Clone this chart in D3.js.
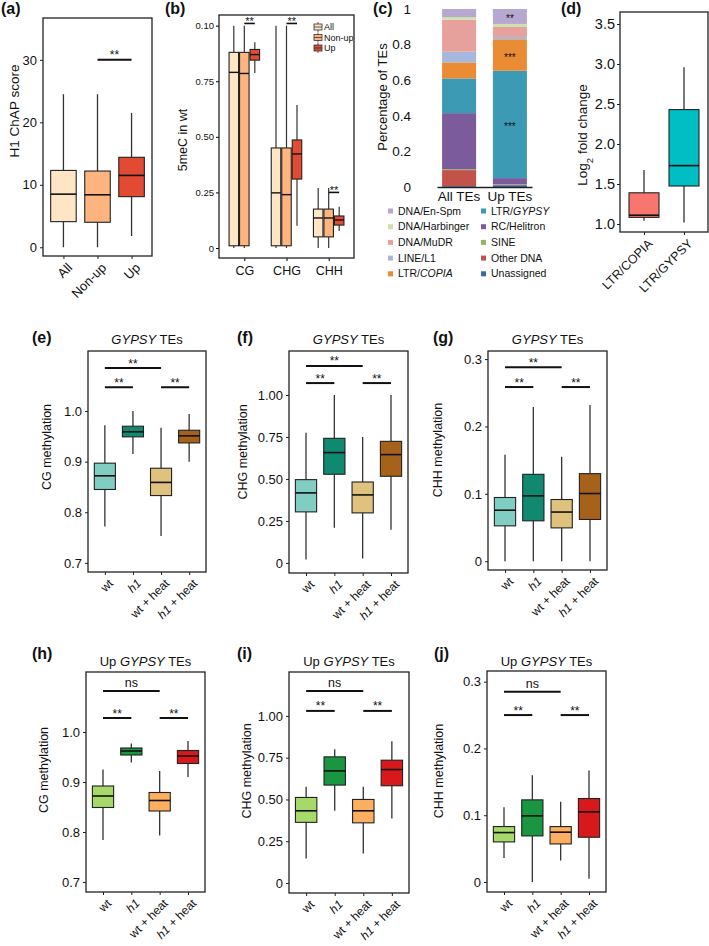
<!DOCTYPE html>
<html>
<head>
<meta charset="utf-8">
<script src="https://cdn.jsdelivr.net/npm/d3@7"></script>
<style>
  body { margin: 0; background: #fff; }
  svg text { font-family: "Liberation Sans", Arial, Helvetica, sans-serif; fill: #111; white-space: pre; }
</style>
</head>
<body>
<div id="fig"></div>
<script>
// ---------- data ----------
// box stats are [lower whisker, Q1, median, Q3, upper whisker]

// (a) H1 ChAP score
const aGroups = ["All", "Non-up", "Up"];
const aStats = [[0, 4.1, 8.5, 12.3, 24.5], [0, 4.0, 8.4, 12.2, 24.5], [1.8, 8.1, 11.5, 14.4, 21.5]];
const aColors = ["#fee5c6", "#fdb47f", "#e34a33"];
const aSig = [{ from: 1, to: 2, y: 30, label: "**" }];

// (b) 5meC in wt, grouped by context
const bContexts = ["CG", "CHG", "CHH"];
const bSeries = ["All", "Non-up", "Up"];
const bAll = [[0, 0.01, 0.79, 0.88, 1.0], [0, 0.01, 0.248, 0.45, 1.0], [0, 0.05, 0.135, 0.175, 0.27]];
const bNonUp = [[0, 0.01, 0.785, 0.88, 1.0], [0, 0.01, 0.24, 0.45, 1.0], [0, 0.05, 0.135, 0.175, 0.27]];
const bUp = [[0.787, 0.845, 0.87, 0.893, 0.925], [0.10, 0.31, 0.423, 0.486, 0.643], [0.076, 0.103, 0.126, 0.144, 0.185]];
const bTickValues = [0, 0.25, 0.5, 0.75, 1.0];
const bTickLabels = ["0", "0.25", "0.50", "0.75", "0.10"];
const bSig = [{ ctx: "CG", y: 1.01 }, { ctx: "CHG", y: 1.01 }, { ctx: "CHH", y: 0.25 }];

// (c) percentage of TEs
const cBars = ["All TEs", "Up TEs"];
const cCategories = ["DNA/En-Spm", "DNA/Harbinger", "DNA/MuDR", "LINE/L1", "LTR/COPIA",
                     "LTR/GYPSY", "RC/Helitron", "SINE", "Other DNA", "Unassigned"];
const cColors = ["#b6a8d0", "#cde0ae", "#e6a19c", "#a6b9dc", "#e98c34",
                 "#3c9ab4", "#7c5b9c", "#98b360", "#c2534b", "#3a69a3"];
const cAllTEs = [0.045, 0.015, 0.18, 0.06, 0.09, 0.195, 0.315, 0.005, 0.09, 0.005];
const cUpTEs = [0.084, 0.017, 0.056, 0.013, 0.177, 0.603, 0.035, 0.002, 0.003, 0.01];
const cSig = [{ bar: "Up TEs", cat: "DNA/En-Spm", label: "**" },
              { bar: "Up TEs", cat: "LTR/COPIA", label: "***" },
              { bar: "Up TEs", cat: "LTR/GYPSY", label: "***" }];

// (d) log2 fold change
const dGroups = ["LTR/COPIA", "LTR/GYPSY"];
const dStats = [[1.04, 1.083, 1.11, 1.39, 1.675], [1.02, 1.475, 1.73, 2.43, 2.96]];
const dColors = ["#f8766d", "#00bfc4"];

// (e)-(j) methylation
const methGroups = ["wt", "h1", "wt + heat", "h1 + heat"];
const gypsyColors = ["#80cdc1", "#0f8a70", "#dfc27d", "#a6611a"];
const upColors = ["#a6d96a", "#1a9641", "#fdae61", "#d7191c"];

const eStats = [[0.772, 0.845, 0.872, 0.897, 0.972], [0.915, 0.949, 0.959, 0.97, 1.0],
                [0.753, 0.833, 0.859, 0.887, 0.967], [0.90, 0.937, 0.951, 0.962, 0.994]];
const fStats = [[0.02, 0.304, 0.417, 0.496, 0.775], [0.21, 0.528, 0.657, 0.742, 1.0],
                [0.026, 0.298, 0.405, 0.482, 0.75], [0.198, 0.516, 0.645, 0.724, 1.0]];
const gStats = [[0, 0.0525, 0.0757, 0.0946, 0.158], [0, 0.06, 0.097, 0.129, 0.229],
                [0, 0.0495, 0.073, 0.0916, 0.155], [0, 0.062, 0.1005, 0.13, 0.232]];
const hStats = [[0.784, 0.849, 0.872, 0.892, 0.925], [0.939, 0.954, 0.962, 0.968, 0.977],
                [0.793, 0.842, 0.863, 0.879, 0.922], [0.91, 0.937, 0.952, 0.963, 0.982]];
const iStats = [[0.147, 0.363, 0.432, 0.512, 0.576], [0.432, 0.586, 0.671, 0.755, 0.80],
                [0.177, 0.36, 0.432, 0.5, 0.576], [0.386, 0.582, 0.679, 0.735, 0.848]];
const jStats = [[0.036, 0.06, 0.074, 0.083, 0.112], [0, 0.069, 0.099, 0.123, 0.16],
                [0.032, 0.057, 0.0746, 0.083, 0.12], [0.005, 0.067, 0.105, 0.125, 0.167]];

const eSig = [{ from: 0, to: 2, y: 1.085, label: "**" }, { from: 0, to: 1, y: 1.047, label: "**" }, { from: 2, to: 3, y: 1.047, label: "**" }];
const fSig = [{ from: 0, to: 2, y: 1.173, label: "**" }, { from: 0, to: 1, y: 1.071, label: "**" }, { from: 2, to: 3, y: 1.071, label: "**" }];
const gSig = [{ from: 0, to: 2, y: 0.288, label: "**" }, { from: 0, to: 1, y: 0.2585, label: "**" }, { from: 2, to: 3, y: 0.2585, label: "**" }];
const hSig = [{ from: 0, to: 2, y: 1.082, label: "ns" }, { from: 0, to: 1, y: 1.028, label: "**" }, { from: 2, to: 3, y: 1.028, label: "**" }];
const iSig = [{ from: 0, to: 2, y: 1.15, label: "ns" }, { from: 0, to: 1, y: 1.03, label: "**" }, { from: 2, to: 3, y: 1.03, label: "**" }];
const jSig = [{ from: 0, to: 2, y: 0.285, label: "ns" }, { from: 0, to: 1, y: 0.25, label: "**" }, { from: 2, to: 3, y: 0.25, label: "**" }];

// ---------- drawing ----------
const svg = d3.select('#fig').append('svg').attr('width', 709).attr('height', 946);

function addParts(sel, parts) {
  parts.forEach(([s, it]) => sel.append('tspan').text(s).attr('font-style', it ? 'italic' : null));
  return sel;
}
function h1Parts(lbl) {
  return lbl.startsWith('h1') ? [['h1', true], [lbl.slice(2), false]] : [[lbl, false]];
}

function panelLabel(txt, x, y) {
  svg.append('text').attr('x', x).attr('y', y).text(txt)
    .style('font-size', '16px').style('font-weight', 'bold');
}

function yTitle(parts, x, yc, size) {
  const t = svg.append('text').attr('transform', `translate(${x},${yc}) rotate(-90)`)
    .attr('text-anchor', 'middle').attr('dy', '0.35em').style('font-size', size + 'px');
  addParts(t, parts);
  return t;
}

function boxPanel(o) {
  const g = svg.append('g');
  const x = d3.scalePoint().domain(o.groups).range([o.l, o.r]).padding(0.6);
  const y = d3.scaleLinear().domain(o.domain).range([o.b, o.t]);
  const bw = x.step() * 0.75;

  // y axis
  const ya = g.append('g').attr('transform', `translate(${o.l},0)`)
    .call(d3.axisLeft(y).tickValues(o.ticks).tickFormat((d, i) => o.tickLabels[i]).tickSize(3).tickPadding(o.tickPad || 3));
  ya.select('.domain').remove();
  ya.selectAll('text').style('font-size', o.tickFont + 'px').attr('fill', '#222');
  ya.selectAll('line').attr('stroke', '#222');

  // x axis ticks + rotated labels
  const xa = g.append('g').attr('transform', `translate(0,${o.b})`)
    .call(d3.axisBottom(x).tickSize(3).tickFormat(''));
  xa.select('.domain').remove();
  xa.selectAll('line').attr('stroke', '#222');
  o.groups.forEach(lbl => {
    const t = g.append('text')
      .attr('transform', `translate(${x(lbl) + 3},${o.b + 6}) rotate(-45)`)
      .attr('text-anchor', 'end').attr('dy', '0.71em')
      .style('font-size', o.labelFont + 'px').attr('fill', '#222');
    addParts(t, o.italicH1 ? h1Parts(lbl) : [[lbl, false]]);
  });

  // boxes
  const boxes = g.selectAll('.box').data(o.stats).join('g')
    .attr('transform', (d, i) => `translate(${x(o.groups[i])},0)`);
  boxes.append('line').attr('y1', d => y(d[0])).attr('y2', d => y(d[1]))
    .attr('stroke', '#333').attr('stroke-width', 1.3);
  boxes.append('line').attr('y1', d => y(d[3])).attr('y2', d => y(d[4]))
    .attr('stroke', '#333').attr('stroke-width', 1.3);
  boxes.append('rect').attr('x', -bw / 2).attr('width', bw)
    .attr('y', d => y(d[3])).attr('height', d => y(d[1]) - y(d[3]))
    .attr('fill', (d, i) => o.colors[i]).attr('stroke', '#222').attr('stroke-width', 1.1);
  boxes.append('line').attr('x1', -bw / 2).attr('x2', bw / 2)
    .attr('y1', d => y(d[2])).attr('y2', d => y(d[2]))
    .attr('stroke', '#111').attr('stroke-width', 1.6);

  // significance bars
  (o.sig || []).forEach(s => {
    const x1 = x(o.groups[s.from]), x2 = x(o.groups[s.to]), yy = y(s.y);
    g.append('line').attr('x1', x1).attr('x2', x2).attr('y1', yy).attr('y2', yy)
      .attr('stroke', '#111').attr('stroke-width', 2);
    g.append('text').attr('x', (x1 + x2) / 2).attr('y', s.label === 'ns' ? yy - 4 : yy - 0.5)
      .attr('text-anchor', 'middle').text(s.label)
      .style('font-size', (s.label === 'ns' ? 12.5 : 12) + 'px');
  });

  // frame
  g.append('rect').attr('x', o.l).attr('y', o.t).attr('width', o.r - o.l).attr('height', o.b - o.t)
    .attr('fill', 'none').attr('stroke', '#222').attr('stroke-width', 1.3);

  if (o.title) {
    const t = g.append('text').attr('x', (o.l + o.r) / 2).attr('y', o.titleY)
      .attr('text-anchor', 'middle').style('font-size', '13px');
    addParts(t, o.title);
  }
  return { x, y };
}

// ----- (a) -----
panelLabel('(a)', 1, 14);
boxPanel({ l: 43, r: 152, t: 18, b: 256, domain: [-1.4, 36.7], ticks: [0, 10, 20, 30],
  tickLabels: ['0', '10', '20', '30'], tickFont: 13, groups: aGroups, stats: aStats,
  colors: aColors, labelFont: 13, sig: aSig });
yTitle([['H1 ChAP score', false]], 14, 111, 13.5);

// ----- (b) -----
panelLabel('(b)', 165, 14);
(function () {
  const l = 219, r = 354, t = 15, b = 258;
  const g = svg.append('g');
  const x = d3.scalePoint().domain(bContexts).range([l, r]).padding(0.6);
  const dodge = d3.scaleBand().domain(bSeries).range([-15.75, 15.75]);
  const y = d3.scaleLinear().domain([-0.045, 1.048]).range([b, t]);
  const bw = 9.5;
  const bColors = aColors;
  const series = [bAll, bNonUp, bUp];

  const ya = g.append('g').attr('transform', `translate(${l},0)`)
    .call(d3.axisLeft(y).tickValues(bTickValues).tickFormat((d, i) => bTickLabels[i]).tickSize(3).tickPadding(2));
  ya.select('.domain').remove();
  ya.selectAll('text').style('font-size', '9.5px').attr('fill', '#222');
  const xa = g.append('g').attr('transform', `translate(0,${b})`)
    .call(d3.axisBottom(x).tickSize(3).tickPadding(5));
  xa.select('.domain').remove();
  xa.selectAll('text').style('font-size', '12.5px').attr('fill', '#222');

  bContexts.forEach((ctx, ci) => {
    bSeries.forEach((s, si) => {
      const d = series[si][ci];
      const cx = x(ctx) + dodge(s) + dodge.bandwidth() / 2;
      g.append('line').attr('x1', cx).attr('x2', cx).attr('y1', y(d[0])).attr('y2', y(d[1])).attr('stroke', '#333').attr('stroke-width', 1.2);
      g.append('line').attr('x1', cx).attr('x2', cx).attr('y1', y(d[3])).attr('y2', y(d[4])).attr('stroke', '#333').attr('stroke-width', 1.2);
      g.append('rect').attr('x', cx - bw / 2).attr('width', bw).attr('y', y(d[3])).attr('height', y(d[1]) - y(d[3]))
        .attr('fill', bColors[si]).attr('stroke', '#222').attr('stroke-width', 1.1);
      g.append('line').attr('x1', cx - bw / 2).attr('x2', cx + bw / 2).attr('y1', y(d[2])).attr('y2', y(d[2]))
        .attr('stroke', '#111').attr('stroke-width', 1.4);
    });
  });

  bSig.forEach(s => {
    const x1 = x(s.ctx) + dodge('Non-up') + dodge.bandwidth() / 2;
    const x2 = x(s.ctx) + dodge('Up') + dodge.bandwidth() / 2;
    g.append('line').attr('x1', x1).attr('x2', x2).attr('y1', y(s.y)).attr('y2', y(s.y)).attr('stroke', '#111').attr('stroke-width', 1.6);
    g.append('text').attr('x', (x1 + x2) / 2).attr('y', y(s.y) + 2).attr('text-anchor', 'middle').text('**').style('font-size', '11px');
  });

  // legend
  bSeries.forEach((s, i) => {
    const ly = 27 + i * 10.5;
    g.append('line').attr('x1', 318).attr('x2', 318).attr('y1', ly - 5).attr('y2', ly + 5).attr('stroke', '#333').attr('stroke-width', 0.8);
    g.append('rect').attr('x', 314).attr('y', ly - 3).attr('width', 8).attr('height', 6)
      .attr('fill', bColors[i]).attr('stroke', '#333').attr('stroke-width', 0.8);
    g.append('line').attr('x1', 314).attr('x2', 322).attr('y1', ly).attr('y2', ly).attr('stroke', '#333').attr('stroke-width', 0.8);
    g.append('text').attr('x', 324).attr('y', ly).attr('dy', '0.35em').text(s).style('font-size', '9px');
  });

  g.append('rect').attr('x', l).attr('y', t).attr('width', r - l).attr('height', b - t)
    .attr('fill', 'none').attr('stroke', '#222').attr('stroke-width', 1.3);
})();
yTitle([['5meC in wt', false]], 183, 140, 12.5);

// ----- (c) -----
panelLabel('(c)', 373, 14);
(function () {
  const g = svg.append('g');
  const x = d3.scaleBand().domain(cBars).range([437, 532]).paddingInner(0.33).paddingOuter(0.1);
  const y = d3.scaleLinear().domain([0, 1]).range([187, 9]);
  const colorOf = d3.scaleOrdinal().domain(cCategories).range(cColors);
  const values = [cAllTEs, cUpTEs];
  const table = cBars.map((bar, bi) => {
    const row = { bar };
    cCategories.forEach((c, ci) => { row[c] = values[bi][ci]; });
    return row;
  });
  const stacked = d3.stack().keys(cCategories.slice().reverse())(table);

  g.selectAll('.layer').data(stacked).join('g').attr('fill', d => colorOf(d.key))
    .selectAll('rect').data(d => d).join('rect')
    .attr('x', d => x(d.data.bar)).attr('width', x.bandwidth())
    .attr('y', d => y(d[1])).attr('height', d => y(d[0]) - y(d[1]));

  cSig.forEach(s => {
    const layer = stacked.find(L => L.key === s.cat);
    const seg = layer[cBars.indexOf(s.bar)];
    g.append('text').attr('x', x(s.bar) + x.bandwidth() / 2).attr('y', y((seg[0] + seg[1]) / 2) + 6)
      .attr('text-anchor', 'middle').text(s.label).style('font-size', '10px');
  });

  const ya = g.append('g').attr('transform', 'translate(437,0)')
    .call(d3.axisLeft(y).tickValues([0, 0.2, 0.4, 0.6, 0.8, 1]).tickFormat(d3.format('~g')).tickSize(0).tickPadding(26));
  ya.select('.domain').remove();
  ya.selectAll('text').style('font-size', '13.5px').attr('fill', '#222');

  const xa = g.append('g').attr('transform', 'translate(0,187)')
    .call(d3.axisBottom(x).tickSize(0).tickSizeOuter(0).tickPadding(4));
  xa.select('.domain').attr('stroke', '#222').attr('stroke-width', 1.5);
  xa.selectAll('text').style('font-size', '13.5px').attr('fill', '#222');

  // legend, two columns
  cCategories.forEach((c, i) => {
    const col = Math.floor(i / 5), row = i % 5;
    const lx = col === 0 ? 388 : 481, ly = 211 + row * 15.7;
    g.append('rect').attr('x', lx).attr('y', ly - 2.5).attr('width', 5).attr('height', 5).attr('fill', cColors[i]);
    const t = g.append('text').attr('x', lx + 10).attr('y', ly).attr('dy', '0.35em').style('font-size', '10.5px').attr('fill', '#222');
    const parts = c.startsWith('LTR/') ? [['LTR/', false], [c.slice(4), true]] : [[c, false]];
    addParts(t, parts);
  });
})();
yTitle([['Percentage of TEs', false]], 382, 97, 13);

// ----- (d) -----
panelLabel('(d)', 561, 14);
boxPanel({ l: 620, r: 708, t: 12, b: 232, domain: [0.9, 3.65], ticks: [1, 1.5, 2, 2.5, 3, 3.5],
  tickLabels: ['1.0', '1.5', '2.0', '2.5', '3.0', '3.5'], tickFont: 14.5, tickPad: 2,
  groups: dGroups, stats: dStats, colors: dColors, labelFont: 12.5 });
(function () {
  const t = svg.append('text').attr('transform', 'translate(582,135) rotate(-90)')
    .attr('text-anchor', 'middle').attr('dy', '0.35em').style('font-size', '13.5px');
  t.append('tspan').text('Log');
  t.append('tspan').text('2').attr('baseline-shift', 'sub').style('font-size', '9.5px');
  t.append('tspan').text(' fold change');
})();

// ----- (e)-(g) -----
const gypsyTitle = [['GYPSY', true], [' TEs', false]];
const upTitle = [['Up ', false], ['GYPSY', true], [' TEs', false]];
const tk01 = [0.7, 0.8, 0.9, 1.0], tk01L = ['0.7', '0.8', '0.9', '1.0'];
const tkQ = [0, 0.25, 0.5, 0.75, 1.0], tkQL = ['0', '0.25', '0.50', '0.75', '1.00'];
const tkS = [0, 0.1, 0.2, 0.3], tkSL = ['0', '0.1', '0.2', '0.3'];

panelLabel('(e)', 32, 343);
boxPanel({ l: 88, r: 206, t: 351, b: 572, domain: [0.682, 1.1186], ticks: tk01, tickLabels: tk01L,
  tickFont: 13, groups: methGroups, stats: eStats, colors: gypsyColors, labelFont: 12, italicH1: true,
  sig: eSig, title: gypsyTitle, titleY: 344 });
yTitle([['CG methylation', false]], 47, 447, 12.5);

panelLabel('(f)', 237, 343);
boxPanel({ l: 289, r: 408, t: 351, b: 573, domain: [-0.06, 1.262], ticks: tkQ, tickLabels: tkQL,
  tickFont: 13, groups: methGroups, stats: fStats, colors: gypsyColors, labelFont: 12, italicH1: true,
  sig: fSig, title: gypsyTitle, titleY: 344 });
yTitle([['CHG methylation', false]], 243, 452, 12.5);

panelLabel('(g)', 433, 343);
boxPanel({ l: 488, r: 607, t: 351, b: 570, domain: [-0.013, 0.312], ticks: tkS, tickLabels: tkSL,
  tickFont: 13, groups: methGroups, stats: gStats, colors: gypsyColors, labelFont: 12, italicH1: true,
  sig: gSig, title: gypsyTitle, titleY: 344 });
yTitle([['CHH methylation', false]], 438, 450, 12.5);

// ----- (h)-(j) -----
panelLabel('(h)', 32, 659);
boxPanel({ l: 86, r: 205, t: 672, b: 892, domain: [0.68, 1.12], ticks: tk01, tickLabels: tk01L,
  tickFont: 13, groups: methGroups, stats: hStats, colors: upColors, labelFont: 12, italicH1: true,
  sig: hSig, title: upTitle, titleY: 666 });
yTitle([['CG methylation', false]], 44, 770, 12.5);

panelLabel('(i)', 237, 659);
boxPanel({ l: 289, r: 409, t: 672, b: 893, domain: [-0.06, 1.263], ticks: tkQ, tickLabels: tkQL,
  tickFont: 13, groups: methGroups, stats: iStats, colors: upColors, labelFont: 12, italicH1: true,
  sig: iSig, title: upTitle, titleY: 666 });
yTitle([['CHG methylation', false]], 247, 771, 12.5);

panelLabel('(j)', 434, 659);
boxPanel({ l: 487, r: 606, t: 671, b: 892, domain: [-0.015, 0.316], ticks: tkS, tickLabels: tkSL,
  tickFont: 13, groups: methGroups, stats: jStats, colors: upColors, labelFont: 12, italicH1: true,
  sig: jSig, title: upTitle, titleY: 666 });
yTitle([['CHH methylation', false]], 439, 771, 12.5);
</script>
</body>
</html>
